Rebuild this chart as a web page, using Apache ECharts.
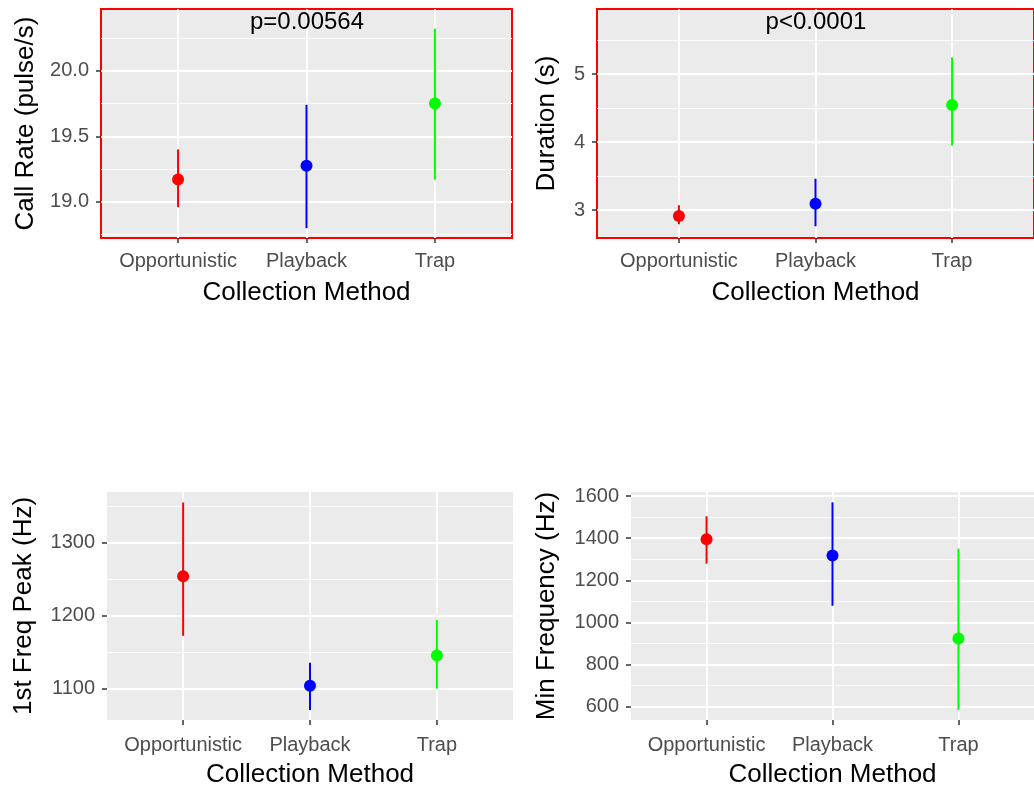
<!DOCTYPE html>
<html>
<head>
<meta charset="utf-8">
<script src="https://cdn.jsdelivr.net/npm/echarts@6/dist/echarts.min.js"></script>
<style>
  html, body { margin: 0; padding: 0; background: #fff; }
  #main { width: 1034px; height: 789px; }
</style>
</head>
<body>
<div id="main"></div>
<script>
var categories = ['Opportunistic', 'Playback', 'Trap'];
var groupColors = ['#FF0000', '#0000FF', '#00FF00'];

// Call Rate (pulse/s)
var callRateMean = [19.17, 19.275, 19.75];
var callRateLow = [18.96, 18.80, 19.17];
var callRateHigh = [19.40, 19.74, 20.32];
var callRateTicks = [19.0, 19.5, 20.0];
var callRateMinor = [18.75, 19.25, 19.75, 20.25];

// Duration (s)
var durationMean = [2.91, 3.09, 4.545];
var durationLow = [2.79, 2.76, 3.946];
var durationHigh = [3.07, 3.46, 5.245];
var durationTicks = [3, 4, 5];
var durationMinor = [3.5, 4.5, 5.5];

// 1st Freq Peak (Hz)
var peakMean = [1253.6, 1103.7, 1145];
var peakLow = [1172, 1070.4, 1099.6];
var peakHigh = [1354.6, 1135, 1193.7];
var peakTicks = [1100, 1200, 1300];
var peakMinor = [1150, 1250, 1350];

// Min Frequency (Hz)
var minFreqMean = [1395, 1317, 924];
var minFreqLow = [1279, 1079, 584];
var minFreqHigh = [1504, 1570, 1350];
var minFreqTicks = [600, 800, 1000, 1200, 1400, 1600];
var minFreqMinor = [700, 900, 1100, 1300, 1500];

var panels = [
    { name: 'Call Rate (pulse/s)', mean: callRateMean, low: callRateLow, high: callRateHigh,
      ticks: callRateTicks, minor: callRateMinor, min: 18.725, max: 20.47, digits: 1,
      grid: { left: 101, top: 9, width: 411, height: 229 }, border: true, nameGap: 62, labelMargin: 13,
      note: 'p=0.00564', noteX: 307 },
    { name: 'Duration (s)', mean: durationMean, low: durationLow, high: durationHigh,
      ticks: durationTicks, minor: durationMinor, min: 2.588, max: 5.956, digits: 0,
      grid: { left: 597, top: 9, width: 440, height: 229 }, border: true, nameGap: 37, labelMargin: 13,
      note: 'p<0.0001', noteX: 816 },
    { name: '1st Freq Peak (Hz)', mean: peakMean, low: peakLow, high: peakHigh,
      ticks: peakTicks, minor: peakMinor, min: 1056.7, max: 1369, digits: 0,
      grid: { left: 107, top: 492, width: 406, height: 229 }, border: false, nameGap: 70, labelMargin: 15 },
    { name: 'Min Frequency (Hz)', mean: minFreqMean, low: minFreqLow, high: minFreqHigh,
      ticks: minFreqTicks, minor: minFreqMinor, min: 536.6, max: 1619, digits: 0,
      grid: { left: 631, top: 492, width: 405, height: 229 }, border: false, nameGap: 71, labelMargin: 15 }
];

var FONT = '"Liberation Sans", Arial, sans-serif';
var grids = [], xAxes = [], yAxes = [], series = [], graphics = [];

panels.forEach(function (p, i) {
    grids.push({
        left: p.grid.left, top: p.grid.top, width: p.grid.width, height: p.grid.height,
        show: true, backgroundColor: '#EBEBEB',
        borderColor: p.border ? '#FF0000' : 'transparent', borderWidth: p.border ? 2 : 0
    });
    xAxes.push({
        type: 'value', gridIndex: i, min: 0.4, max: 3.6,
        name: 'Collection Method', nameLocation: 'middle', nameGap: 42,
        nameTextStyle: { fontSize: 26, color: '#000', fontFamily: FONT },
        axisLine: { show: false },
        axisTick: { show: true, length: 5, customValues: [1, 2, 3], lineStyle: { color: '#333', width: 1.5 } },
        axisLabel: {
            customValues: [1, 2, 3], margin: p.labelMargin, fontSize: 20, color: '#4D4D4D', fontFamily: FONT,
            formatter: function (v) { return categories[Math.round(v) - 1]; }
        },
        splitLine: { show: true, lineStyle: { color: '#FFFFFF', width: 1.8 } }
    });
    // major y axis
    yAxes.push({
        type: 'value', gridIndex: i, min: p.min, max: p.max,
        name: p.name, nameLocation: 'middle', nameGap: p.nameGap,
        nameTextStyle: { fontSize: 26, color: '#000', fontFamily: FONT },
        axisLine: { show: false },
        axisTick: { show: true, length: 5, customValues: p.ticks, lineStyle: { color: '#333', width: 1.5 } },
        axisLabel: {
            customValues: p.ticks, margin: 12, fontSize: 20, color: '#4D4D4D', fontFamily: FONT,
            formatter: (function (d) { return function (v) { return v.toFixed(d); }; })(p.digits)
        },
        splitLine: { show: true, lineStyle: { color: '#FFFFFF', width: 1.8 } }
    });
    // minor grid lines
    yAxes.push({
        type: 'value', gridIndex: i, min: p.min, max: p.max,
        axisLine: { show: false },
        axisTick: { show: false, customValues: p.minor },
        axisLabel: { show: false },
        splitLine: { show: true, lineStyle: { color: '#FFFFFF', width: 0.9 } }
    });

    var barData = p.mean.map(function (m, k) { return [k + 1, p.low[k], p.high[k]]; });
    var pointData = p.mean.map(function (m, k) { return [k + 1, m]; });

    series.push({
        type: 'custom', xAxisIndex: i, yAxisIndex: i * 2, z: 3,
        data: barData,
        encode: { x: 0, y: [1, 2] },
        renderItem: function (params, api) {
            var a = api.coord([api.value(0), api.value(1)]);
            var b = api.coord([api.value(0), api.value(2)]);
            return {
                type: 'line',
                shape: { x1: a[0], y1: a[1], x2: b[0], y2: b[1] },
                style: { stroke: groupColors[params.dataIndex], lineWidth: 2 }
            };
        }
    });
    series.push({
        type: 'scatter', xAxisIndex: i, yAxisIndex: i * 2, z: 4,
        symbol: 'circle', symbolSize: 12,
        data: pointData,
        itemStyle: { opacity: 1, color: function (d) { return groupColors[d.dataIndex]; } }
    });

    if (p.note) {
        graphics.push({
            type: 'text', x: p.noteX, y: 22, z: 10,
            style: { text: p.note, textAlign: 'center', textVerticalAlign: 'middle',
                     font: '24px ' + FONT, fill: '#000' }
        });
    }
});

var myChart = echarts.init(document.getElementById('main'));
myChart.setOption({
    animation: false,
    grid: grids,
    xAxis: xAxes,
    yAxis: yAxes,
    series: series,
    graphic: graphics
});
</script>
</body>
</html>
